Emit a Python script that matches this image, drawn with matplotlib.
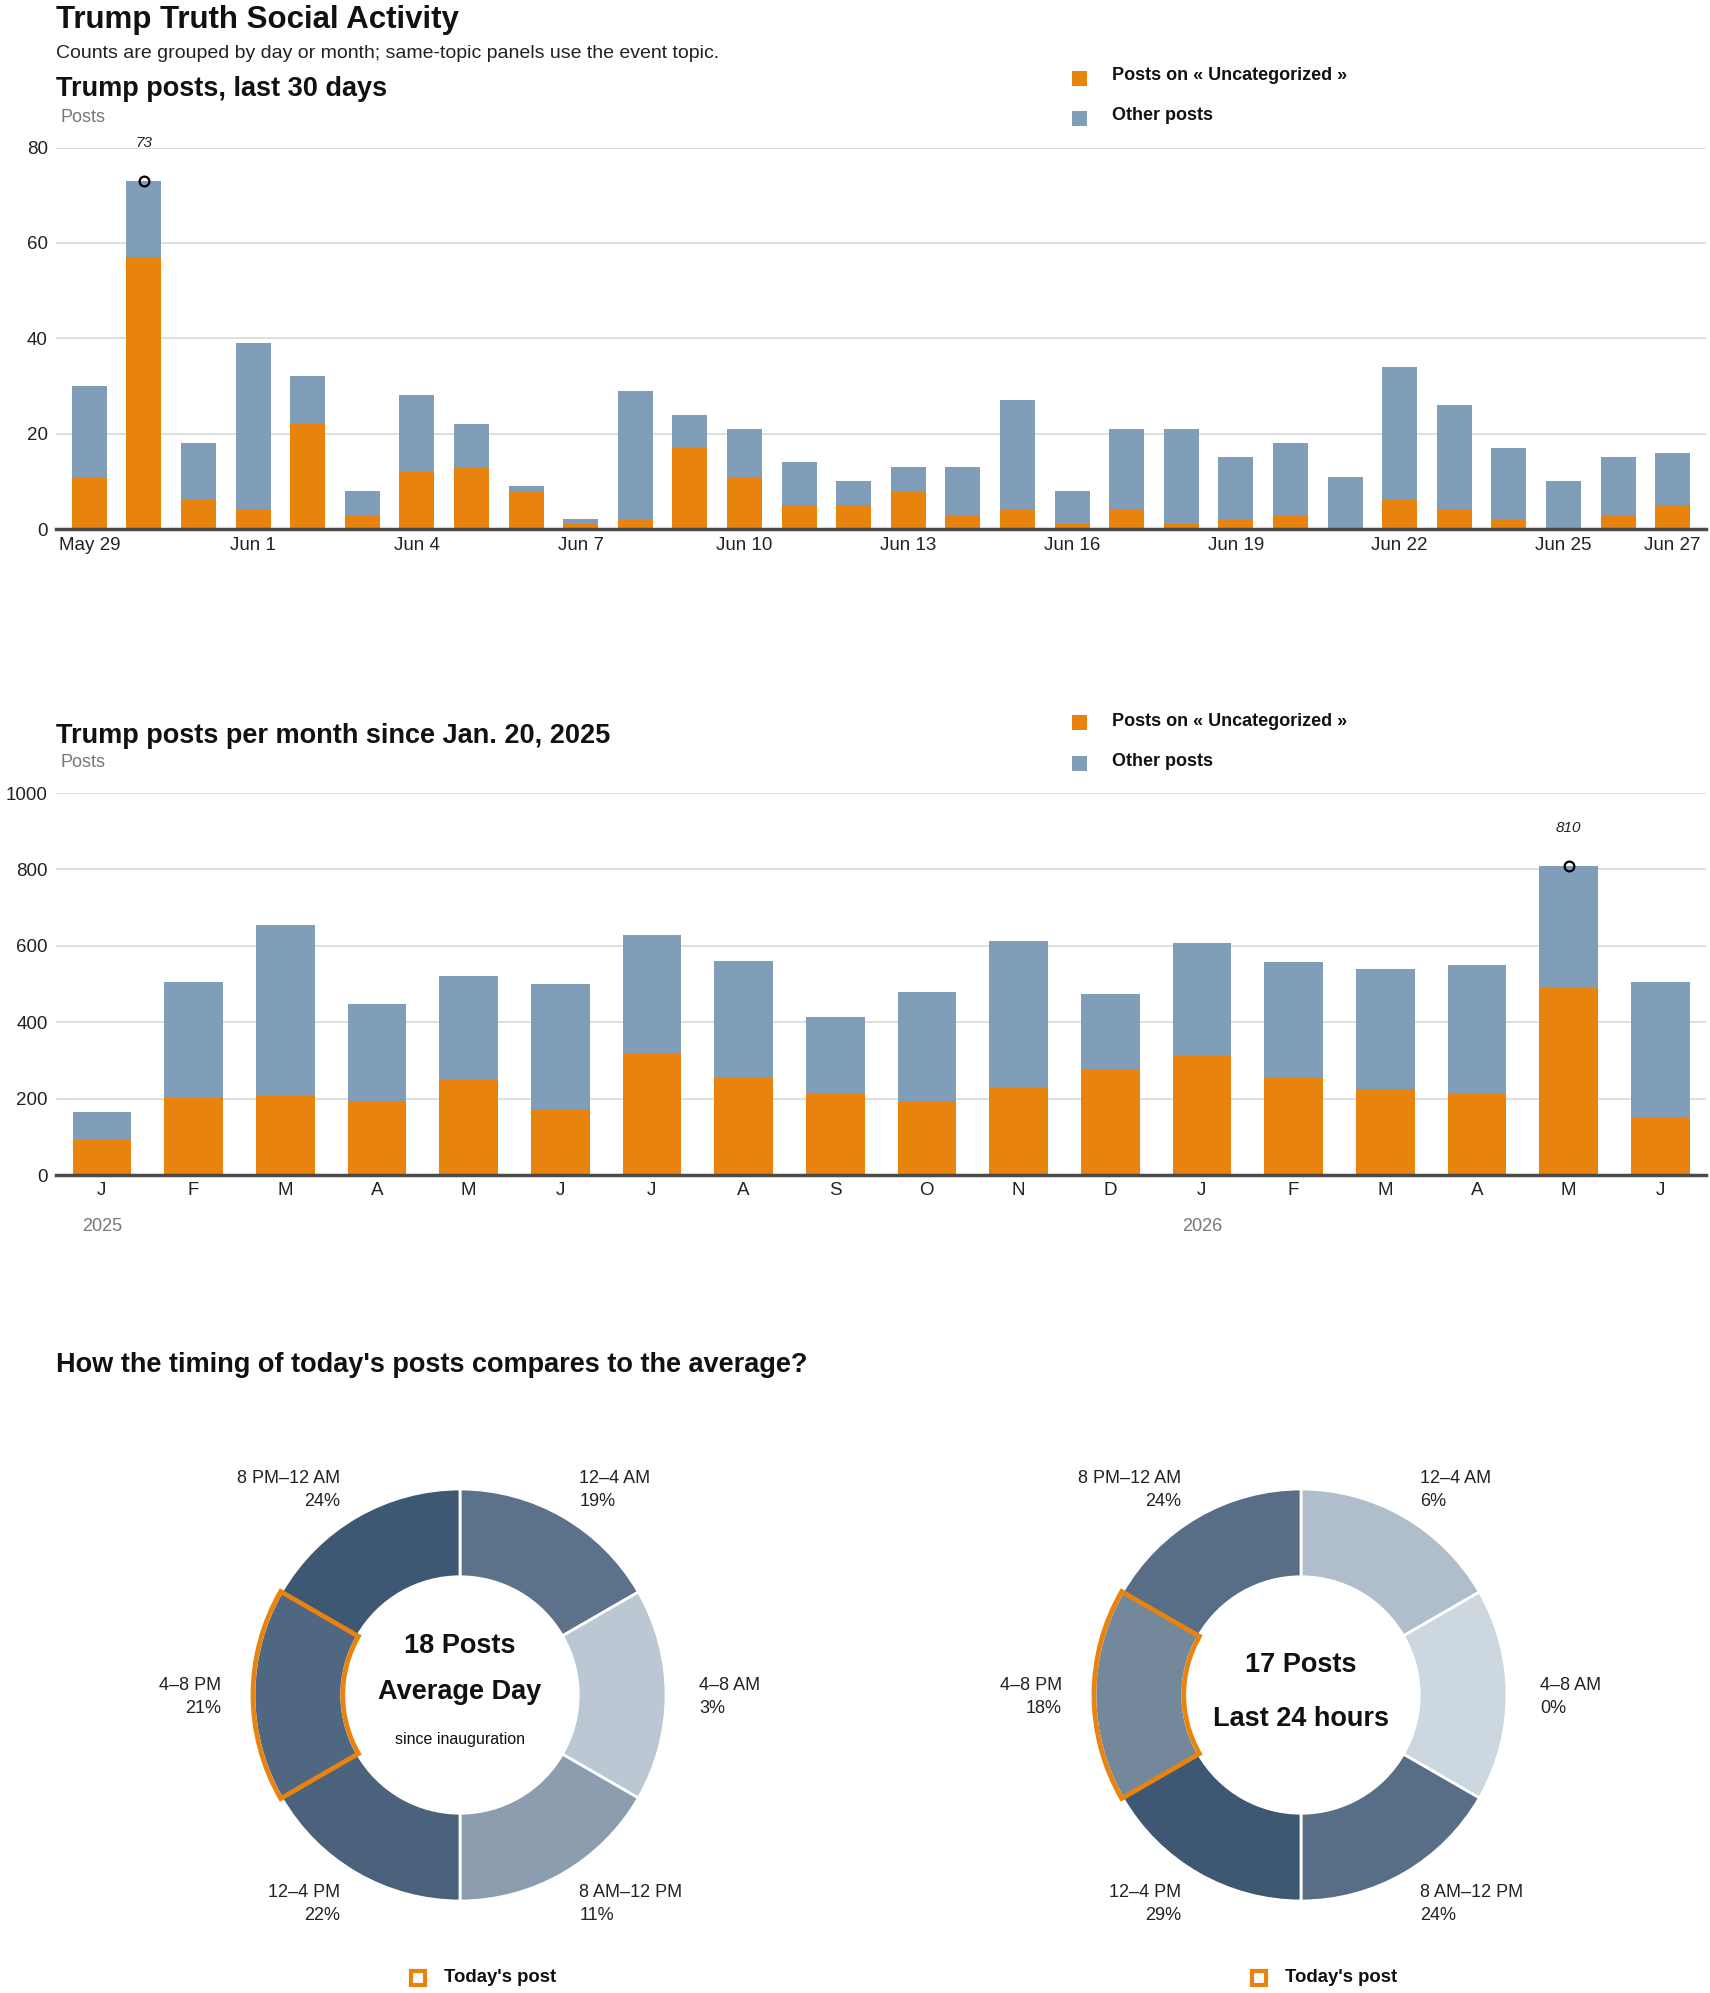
import numpy as np
import matplotlib
matplotlib.use("Agg")
import matplotlib.pyplot as plt
from matplotlib.colors import LinearSegmentedColormap
from matplotlib.patches import Wedge, Rectangle


# ── Data ─────────────────────────────────────────────────────

day_labels = ["May 29", "May 30", "May 31", "Jun 1", "Jun 2", "Jun 3", "Jun 4",
              "Jun 5", "Jun 6", "Jun 7", "Jun 8", "Jun 9", "Jun 10", "Jun 11",
              "Jun 12", "Jun 13", "Jun 14", "Jun 15", "Jun 16", "Jun 17",
              "Jun 18", "Jun 19", "Jun 20", "Jun 21", "Jun 22", "Jun 23",
              "Jun 24", "Jun 25", "Jun 26", "Jun 27"]
day_topic = [11, 57, 6, 4, 22, 3, 12, 13, 8, 1, 2, 17, 11, 5, 5,
             8, 3, 4, 1, 4, 1, 2, 3, 0, 6, 4, 2, 0, 3, 5]
day_total = [30, 73, 18, 39, 32, 8, 28, 22, 9, 2, 29, 24, 21, 14, 10,
             13, 13, 27, 8, 21, 21, 15, 18, 11, 34, 26, 17, 10, 15, 16]

month_labels = ["J", "F", "M", "A", "M", "J", "J", "A", "S",
                "O", "N", "D", "J", "F", "M", "A", "M", "J"]
month_topic = [92, 201, 207, 194, 248, 172, 316, 253, 212,
               195, 230, 275, 311, 255, 224, 212, 490, 150]
month_total = [166, 504, 655, 447, 521, 499, 628, 560, 413,
               478, 612, 473, 607, 557, 539, 550, 810, 505]
year_labels = ["2025", "2026"]
year_start = [0, 12]          # index of the January bar of each year

slot_labels = ["12–4 AM", "4–8 AM", "8 AM–12 PM", "12–4 PM", "4–8 PM", "8 PM–12 AM"]
avg_share = [19, 3, 11, 22, 21, 24]
today_share = [6, 0, 24, 29, 18, 24]
avg_posts = 18
today_posts = 17
today_slot = "4–8 PM"


# ── Style ────────────────────────────────────────────────────

ORANGE = "#e8830e"
BLUE = "#809eb9"
GRID = "#dcdcdc"
TEXT = "#222222"
GRAY = "#777777"
BODY = ["Liberation Sans", "DejaVu Sans"]
NARROW = ["Liberation Sans Narrow", "Liberation Sans", "DejaVu Sans"]

plt.rcParams["font.family"] = BODY
ring_cmap = LinearSegmentedColormap.from_list("ring", ["#cdd7e0", "#3e5873"])

W, H, DPI = 1710, 1993, 100
fig = plt.figure(figsize=(W / DPI, H / DPI), dpi=DPI)


def fx(x):
    return x / W


def fy(y):
    return 1 - y / H


def axes_px(left, top, right, bottom):
    return fig.add_axes([fx(left), fy(bottom), (right - left) / W, (bottom - top) / H])


def ftext(x, y, s, **kw):
    kw.setdefault("color", TEXT)
    return fig.text(fx(x), fy(y), s, **kw)


def square(xc, yc, size, **kw):
    r = Rectangle((fx(xc - size / 2), fy(yc + size / 2)), size / W, size / H,
                  transform=fig.transFigure, **kw)
    fig.add_artist(r)


def legend_block(y1, y2):
    for y, color, label in [(y1, ORANGE, "Posts on « Uncategorized »"),
                            (y2, BLUE, "Other posts")]:
        square(1079, y + 2, 15, color=color, lw=0)
        ftext(1112, y, label, fontsize=13, weight="bold", va="center", color="#111111")


def stacked_panel(ax, labels, topic, total, ymax, yticks, tick_idx, xpad, tick_pad):
    topic = np.array(topic)
    total = np.array(total)
    x = np.arange(len(labels))
    ax.bar(x, topic, width=0.64, color=ORANGE, zorder=2)
    ax.bar(x, total - topic, bottom=topic, width=0.64, color=BLUE, zorder=2)

    ax.set_xlim(-xpad, len(labels) - 1 + xpad)
    ax.set_ylim(0, ymax)
    ax.set_yticks(yticks)
    ax.yaxis.grid(True, color=GRID, lw=1.3, zorder=0)
    ax.set_axisbelow(True)
    for side in ["left", "right", "top"]:
        ax.spines[side].set_visible(False)
    ax.spines["bottom"].set_color("#4a4a4a")
    ax.spines["bottom"].set_linewidth(2.5)
    ax.spines["bottom"].set_zorder(3)
    ax.tick_params(axis="y", length=0, pad=6, labelsize=13.5, labelcolor=TEXT)
    ax.tick_params(axis="x", length=0, pad=tick_pad, labelsize=13.5, labelcolor=TEXT)
    ax.set_xticks(tick_idx)
    ax.set_xticklabels([labels[i] for i in tick_idx])

    # peak marker
    k = int(np.argmax(total))
    ax.plot(k, total[k], "o", mfc="none", mec="black", ms=7, mew=1.6,
            zorder=4, clip_on=False)
    ax.annotate(str(total[k]), (k, total[k]), xytext=(0, 27), textcoords="offset points",
                ha="center", va="center", fontsize=11, style="italic",
                family=NARROW, color=TEXT, annotation_clip=False)
    return ax


# ── Header ───────────────────────────────────────────────────

ftext(56, 28, "Trump Truth Social Activity", fontsize=22.5, weight="bold",
      va="baseline", color="#111111")
ftext(56, 58, "Counts are grouped by day or month; same-topic panels use the event topic.",
      fontsize=14, va="baseline")

# ── Panel 1: last 30 days ────────────────────────────────────

ftext(56, 96, "Trump posts, last 30 days", fontsize=19.5, weight="bold",
      va="baseline", color="#111111")
ftext(60, 117, "Posts", fontsize=13, color=GRAY, va="center")
legend_block(76, 116)

ax1 = axes_px(56, 147.5, 1706, 529)
idx1 = list(range(0, len(day_labels), 3)) + [len(day_labels) - 1]
stacked_panel(ax1, day_labels, day_topic, day_total, 80, [0, 20, 40, 60, 80],
              idx1, xpad=0.61, tick_pad=6)

# ── Panel 2: per month ───────────────────────────────────────

ftext(56, 743, "Trump posts per month since Jan. 20, 2025", fontsize=19.5,
      weight="bold", va="baseline", color="#111111")
ftext(60, 763, "Posts", fontsize=13, color=GRAY, va="center")
legend_block(721, 761)

ax2 = axes_px(56, 793, 1706, 1175)
stacked_panel(ax2, month_labels, month_topic, month_total, 1000,
              [0, 200, 400, 600, 800, 1000], list(range(len(month_labels))),
              xpad=0.5, tick_pad=5)
for yl, i in zip(year_labels, year_start):
    ax2.text(i, -0.136, yl, transform=ax2.get_xaxis_transform(), ha="center",
             va="center", fontsize=13, color=GRAY)

# ── Panel 3: timing donuts ───────────────────────────────────

ftext(56, 1372, "How the timing of today's posts compares to the average?",
      fontsize=19.5, weight="bold", va="baseline", color="#111111")


def donut(cx, cy, shares, center_lines):
    size = 560
    R = 206
    ax = axes_px(cx - size / 2, cy - size / 2, cx + size / 2, cy + size / 2)
    lim = size / 2 / R
    ax.set_xlim(-lim, lim)
    ax.set_ylim(-lim, lim)
    ax.axis("off")
    ring = 1 - 0.574
    vmax = max(shares)
    for i, (lab, s) in enumerate(zip(slot_labels, shares)):
        t2 = 90 - 60 * i
        t1 = t2 - 60
        ax.add_patch(Wedge((0, 0), 1, t1, t2, width=ring,
                           facecolor=ring_cmap(s / vmax), edgecolor="white", lw=2))
        mid = np.deg2rad(t1 + 30)
        lx, ly = 1.16 * np.cos(mid), 1.16 * np.sin(mid)
        ax.text(lx, ly - 0.01, f"{lab}\n{s}%", ha="left" if lx > 0 else "right",
                va="center", fontsize=13, linespacing=1.5, color=TEXT)

    # today's slot outline
    i = slot_labels.index(today_slot)
    t2 = 90 - 60 * i
    ax.add_patch(Wedge((0, 0), 1.005, t2 - 60, t2, width=ring + 0.01,
                       fill=False, edgecolor=ORANGE, lw=3.4, zorder=5))

    for text, y, size_, weight in center_lines:
        ax.text(0, y, text, ha="center", va="center", fontsize=size_,
                weight=weight, color="#111111")

    # "Today's post" key
    square(cx - 42, 1978, 14, fill=False, edgecolor=ORANGE, lw=3)
    ftext(cx - 16, 1978, "Today's post", fontsize=13.3, weight="bold",
          va="center", color="#111111")


donut(460, 1695, avg_share,
      [(f"{avg_posts} Posts", 0.238, 19.5, "bold"),
       ("Average Day", 0.015, 19.5, "bold"),
       ("since inauguration", -0.214, 11.5, "normal")])
donut(1301, 1695, today_share,
      [(f"{today_posts} Posts", 0.146, 19.5, "bold"),
       ("Last 24 hours", -0.117, 19.5, "bold")])

fig.savefig("out.png", dpi=DPI)
